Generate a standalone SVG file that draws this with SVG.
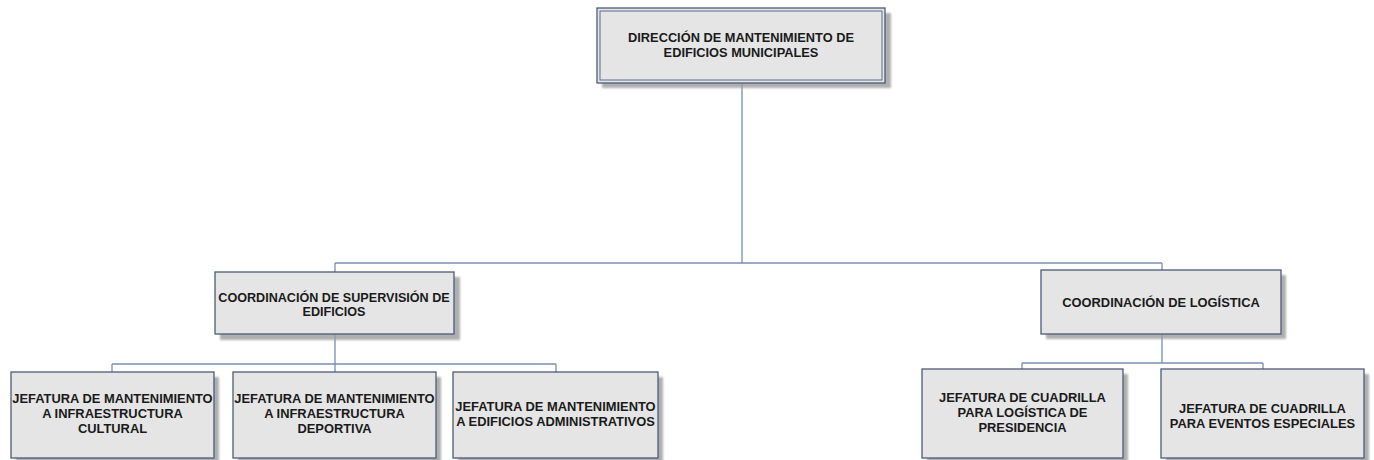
<svg xmlns="http://www.w3.org/2000/svg" width="1374" height="460" viewBox="0 0 1374 460">
<defs>
<style>
.box{fill:#e5e5e5;stroke:#4e5b78;stroke-width:1.3}
.inner{fill:none;stroke:#5a6a90;stroke-width:1}
.sh{fill:#9c9c9c;opacity:0.8}
.t{font-family:"Liberation Sans",Arial,sans-serif;font-weight:bold;font-size:12.9px;fill:#1a1a1a;text-anchor:middle}
.c{fill:none;stroke:#7a90b0;stroke-width:1.3}
</style>
<filter id="blur" x="-10%" y="-10%" width="120%" height="120%"><feGaussianBlur stdDeviation="1.2"/></filter>
</defs>
<rect width="1374" height="460" fill="#ffffff"/>
<g id="connectors">
<path class="c" d="M742 83V263M335 263H1162M335 263V272M1162 263V270"/>
<path class="c" d="M335 334V364M112 364H556M112 364V372M335 364V372M556 364V372"/>
<path class="c" d="M1162 334V363M1022 363H1263M1022 363V369M1263 363V369"/>
</g>
<g id="n-direccion">
<rect class="sh" x="602" y="13" width="289" height="75" filter="url(#blur)"/>
<rect class="box" x="597" y="8" width="288" height="75"/>
<rect class="inner" x="600" y="11" width="282" height="69"/>
<text class="t" style="font-size:12.8px" x="741" y="42">DIRECCIÓN DE MANTENIMIENTO DE</text>
<text class="t" style="font-size:12.8px" x="741" y="57">EDIFICIOS MUNICIPALES</text>
</g>
<g id="n-coord-supervision">
<rect class="sh" x="220" y="277" width="240" height="63" filter="url(#blur)"/>
<rect class="box" x="215" y="272" width="239" height="62"/>
<text class="t" style="font-size:12.6px" x="334" y="302">COORDINACIÓN DE SUPERVISIÓN DE</text>
<text class="t" style="font-size:12.6px" x="334" y="316">EDIFICIOS</text>
</g>
<g id="n-coord-logistica">
<rect class="sh" x="1046" y="275" width="240" height="64" filter="url(#blur)"/>
<rect class="box" x="1041" y="270" width="240" height="64"/>
<text class="t" x="1161" y="307">COORDINACIÓN DE LOGÍSTICA</text>
</g>
<g id="n-jef-cultural">
<rect class="sh" x="16" y="377" width="203" height="86" filter="url(#blur)"/>
<rect class="box" x="11" y="372" width="203" height="86"/>
<text class="t" x="112.5" y="403">JEFATURA DE MANTENIMIENTO</text>
<text class="t" x="112.5" y="418">A INFRAESTRUCTURA</text>
<text class="t" x="112.5" y="433">CULTURAL</text>
</g>
<g id="n-jef-deportiva">
<rect class="sh" x="238" y="377" width="203" height="86" filter="url(#blur)"/>
<rect class="box" x="233" y="372" width="203" height="86"/>
<text class="t" x="334.5" y="403">JEFATURA DE MANTENIMIENTO</text>
<text class="t" x="334.5" y="418">A INFRAESTRUCTURA</text>
<text class="t" x="334.5" y="433">DEPORTIVA</text>
</g>
<g id="n-jef-administrativos">
<rect class="sh" x="458" y="377" width="205" height="86" filter="url(#blur)"/>
<rect class="box" x="453" y="372" width="205" height="86"/>
<text class="t" x="555.5" y="411">JEFATURA DE MANTENIMIENTO</text>
<text class="t" x="555.5" y="426">A EDIFICIOS ADMINISTRATIVOS</text>
</g>
<g id="n-jef-presidencia">
<rect class="sh" x="927" y="374" width="201" height="89" filter="url(#blur)"/>
<rect class="box" x="922" y="369" width="201" height="89"/>
<text class="t" x="1022.5" y="402">JEFATURA DE CUADRILLA</text>
<text class="t" x="1022.5" y="417">PARA LOGÍSTICA DE</text>
<text class="t" x="1022.5" y="432">PRESIDENCIA</text>
</g>
<g id="n-jef-eventos">
<rect class="sh" x="1166" y="374" width="203" height="89" filter="url(#blur)"/>
<rect class="box" x="1161" y="369" width="203" height="89"/>
<text class="t" x="1262.5" y="413">JEFATURA DE CUADRILLA</text>
<text class="t" x="1262.5" y="428">PARA EVENTOS ESPECIALES</text>
</g>
</svg>
